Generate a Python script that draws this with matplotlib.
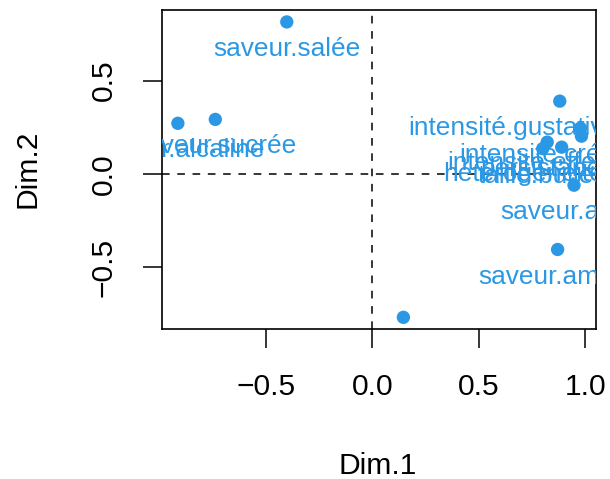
import matplotlib
matplotlib.use("Agg")
import matplotlib.pyplot as plt
from matplotlib.ticker import FuncFormatter
from matplotlib.transforms import offset_copy

plt.rcParams['font.family'] = ['Liberation Sans', 'DejaVu Sans']

labels = ["saveur.salée", "saveur.sucrée", "saveur.alcaline", "saveur.neutre",
          "intensité.gustative.globale", "intensité.crépitement", "intensité.effervescence",
          "persistance", "hétérogénéité.bulles", "taille.bulles",
          "saveur.acide", "saveur.amère"]
dim1 = [-0.402, -0.738, -0.914, 0.146, 0.881, 0.978, 0.983, 0.822, 0.890, 0.801, 0.948, 0.871]
dim2 = [0.815, 0.292, 0.271, -0.770, 0.390, 0.245, 0.202, 0.170, 0.143, 0.135, -0.061, -0.406]

xticks = [-0.5, 0.0, 0.5, 1.0]
yticks = [-0.5, 0.0, 0.5]

col = '#2a98e4'
W, H = 610, 479
fig = plt.figure(figsize=(W / 100, H / 100), dpi=100)
ax = fig.add_axes([161.7 / W, 1 - 328.5 / H, (595.7 - 161.7) / W, (328.5 - 10) / H])
ax.set_xlim(-0.99, 1.05)
ax.set_ylim(-0.830, 0.879)

ax.axvline(0, color='black', lw=1.1, ls=(0, (5, 5)), zorder=1)
ax.axhline(0, color='black', lw=1.1, ls=(0, (5, 5)), zorder=1)

ax.scatter(dim1, dim2, s=92, color=col, edgecolors='none', zorder=3)
below = offset_copy(ax.transData, fig=fig, x=0, y=-24.5, units='points')
for lab, x, y in zip(labels, dim1, dim2):
    ax.text(x, y, lab, transform=below, ha='center', va='baseline',
            fontsize=18.9, color=col, clip_on=True, zorder=4)

fmt = FuncFormatter(lambda v, p: ('%.1f' % v).replace('-', '\u2212'))
ax.set_xticks(xticks)
ax.set_yticks(yticks)
ax.xaxis.set_major_formatter(fmt)
ax.yaxis.set_major_formatter(fmt)
ax.tick_params(axis='both', length=13.7, width=1.1, labelsize=21.6, pad=18, colors='black')
for lbl in ax.get_yticklabels():
    lbl.set_rotation(90)
    lbl.set_va('center')
for s in ax.spines.values():
    s.set_linewidth(1.2)

fig.text(378 / W, 1 - 474 / H, "Dim.1", ha='center', va='baseline', fontsize=21.6)
fig.text(28 / W, 1 - 169 / H, "Dim.2", ha='center', va='center', rotation=90, fontsize=21.6)

fig.savefig("out.png", dpi=100)
